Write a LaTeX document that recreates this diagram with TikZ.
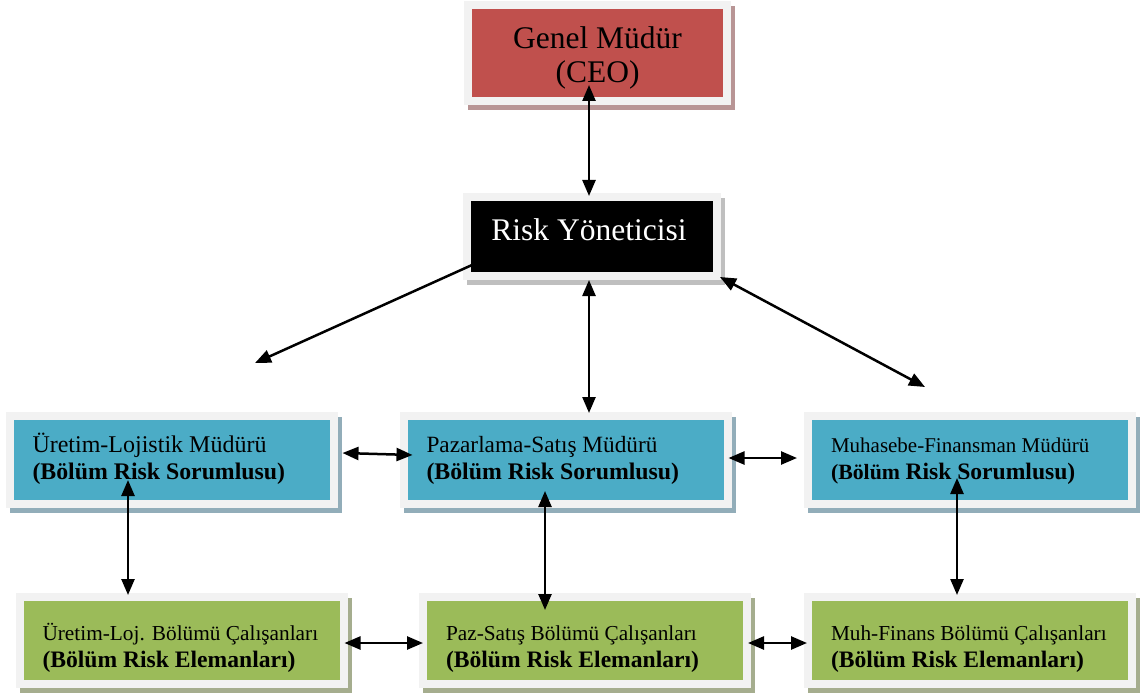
\documentclass[tikz,border=0pt]{standalone}
\usepackage{fontspec}
\setmainfont{Liberation Serif}
\usetikzlibrary{arrows.meta}

\definecolor{ceoRed}{HTML}{C0504D}
\definecolor{mgrBlue}{HTML}{4BACC6}
\definecolor{staffGreen}{HTML}{9BBB59}
\definecolor{frameGray}{HTML}{F2F2F2}
\definecolor{shRed}{HTML}{B89595}
\definecolor{shBlack}{HTML}{BFBFBF}
\definecolor{shBlue}{HTML}{92ADB9}
\definecolor{shGreen}{HTML}{A5AD8E}

\tikzset{
  framed/.style 2 args={rectangle, inner sep=0pt, outer sep=0pt, fill=#1,
    preaction={draw=#2, fill=#2, line width=16pt,
      transform canvas={shift={(4pt,-5pt)}}},
    preaction={draw=frameGray, line width=16pt}},
  ceobox/.style={framed={ceoRed}{shRed}, minimum width=251pt, minimum height=88pt},
  riskbox/.style={framed={black}{shBlack}, minimum width=242pt, minimum height=71pt},
  mgrbox/.style={framed={mgrBlue}{shBlue}, minimum width=316pt, minimum height=80pt},
  staffbox/.style={framed={staffGreen}{shGreen}, minimum width=316pt, minimum height=79pt},
  txt/.style={inner sep=0pt, outer sep=0pt, anchor=base west},
  bigtxt/.style={inner sep=0pt, outer sep=0pt, anchor=base, font=\fontsize{31.5}{34}\selectfont},
  link/.style={line width=2.5pt, {Triangle[length=16pt,width=13pt]}-{Triangle[length=16pt,width=13pt]}},
  oneway/.style={line width=2.5pt, -{Triangle[length=16pt,width=13pt]}},
}

\newcommand{\regfont}[1]{\fontsize{#1}{#1}\selectfont}

\begin{document}
\begin{tikzpicture}[x=1pt, y=-1pt]
\useasboundingbox (0,0) rectangle (1142,695);

% boxes
\node[ceobox]   (ceo)    at (597.5,53)   {};
\node[riskbox]  (risk)   at (592,236.5)  {};
\node[mgrbox]   (mgrU)   at (171.5,460)  {};
\node[mgrbox]   (mgrP)   at (565.5,460)  {};
\node[mgrbox]   (mgrM)   at (970,460)    {};
\node[staffbox] (stfU)   at (181.5,640.5) {};
\node[staffbox] (stfP)   at (585,640.5)  {};
\node[staffbox] (stfM)   at (970,640.5)  {};

% top texts
\node[bigtxt] (ceoA) at (597.5,49) {Genel Müdür};
\node[bigtxt] (ceoB) at (597.5,83) {(CEO)};
\node[bigtxt, text=white] (riskA) at (589,240) {Risk Yöneticisi};

% managers
\node[txt, font=\regfont{24}] (mgrUa) at ([shift={(19,32)}]mgrU.north west) {Üretim-Lojistik Müdürü};
\node[txt, font=\regfont{23.8}\bfseries] (mgrUb) at ([shift={(19,59)}]mgrU.north west) {(Bölüm Risk Sorumlusu)};
\node[txt, font=\regfont{23.3}] (mgrPa) at ([shift={(19,32)}]mgrP.north west) {Pazarlama-Satış Müdürü};
\node[txt, font=\regfont{23.8}\bfseries] (mgrPb) at ([shift={(19,59)}]mgrP.north west) {(Bölüm Risk Sorumlusu)};
\node[txt, font=\regfont{21}] (mgrMa) at ([shift={(19,32)}]mgrM.north west) {Muhasebe-Finansman Müdürü};
\node[txt, font=\bfseries] (mgrMb) at ([shift={(19,59)}]mgrM.north west) {\regfont{21.8}(Bölüm \regfont{23.6}Risk Sorumlusu)};

% staff
\node[txt, font=\regfont{21.3}] (stfUa) at ([shift={(19,39)}]stfU.north west) {Üretim-Loj. Bölümü Çalışanları};
\node[txt, font=\regfont{23.6}\bfseries] (stfUb) at ([shift={(19,66)}]stfU.north west) {(Bölüm Risk Elemanları)};
\node[txt, font=\regfont{21.3}] (stfPa) at ([shift={(19,39)}]stfP.north west) {Paz-Satış Bölümü Çalışanları};
\node[txt, font=\regfont{23.6}\bfseries] (stfPb) at ([shift={(19,66)}]stfP.north west) {(Bölüm Risk Elemanları)};
\node[txt, font=\regfont{21.3}] (stfMa) at ([shift={(19,39)}]stfM.north west) {Muh-Finans Bölümü Çalışanları};
\node[txt, font=\regfont{23.6}\bfseries] (stfMb) at ([shift={(19,66)}]stfM.north west) {(Bölüm Risk Elemanları)};

% free arrow ends
\coordinate (leftEnd)  at (255,363);
\coordinate (rightEnd) at (925,387);

% connectors
\draw[link] ([shift={(-8.5,32)}]ceo.center) -- ([shift={(-3,-5)}]risk.north);
\draw[link] ([shift={(-3,8)}]risk.south) -- ([shift={(23.5,-7)}]mgrP.north);
\draw[oneway] ([shift={(1,-7)}]risk.south west) -- (leftEnd);
\draw[link] ([shift={(7,5)}]risk.south east) -- (rightEnd);

\draw[link] ([shift={(13,-7)}]mgrU.east) -- ([shift={(5,-5)}]mgrP.west);
\draw[link] ([shift={(5,-2)}]mgrP.east) -- ([shift={(-15,-2)}]mgrM.west);

\draw[link] ([shift={(-43.5,20)}]mgrU.center) -- ([shift={(-53.5,-6)}]stfU.north);
\draw[link] ([shift={(-20.5,31)}]mgrP.center) -- ([shift={(-40,9)}]stfP.north);
\draw[link] ([shift={(-13,18)}]mgrM.center) -- ([shift={(-13,-6)}]stfM.north);

\draw[link] ([shift={(5,2.5)}]stfU.east) -- ([shift={(-4,2.5)}]stfP.west);
\draw[link] ([shift={(5,2.5)}]stfP.east) -- ([shift={(-5,2.5)}]stfM.west);
\end{tikzpicture}
\end{document}
